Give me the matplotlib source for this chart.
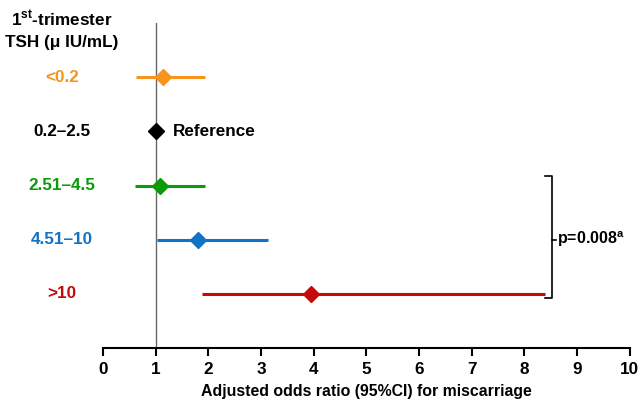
import numpy as np
import matplotlib
matplotlib.use('Agg')
import matplotlib.pyplot as plt

plt.rcParams['font.family'] = ['Liberation Sans', 'DejaVu Sans']
plt.rcParams['font.weight'] = 'bold'
plt.rcParams['mathtext.fontset'] = 'custom'
plt.rcParams['mathtext.rm'] = 'Liberation Sans'
plt.rcParams['mathtext.bf'] = 'Liberation Sans:bold'

# Данные: группы ТТГ, отношения шансов и 95% ДИ
groups = ['<0.2', '0.2–2.5', '2.51–4.5', '4.51–10', '>10']
odds = [1.14, 1.0, 1.08, 1.80, 3.95]
ci_low = [0.63, None, 0.61, 1.02, 1.88]
ci_high = [1.94, None, 1.94, 3.13, 8.39]
colors = ['#f7941d', '#000000', '#0a9a0a', '#1273c4', '#c40a0a']

fig = plt.figure(figsize=(6.4, 4.0), dpi=100)
ax = fig.add_axes([0.161, 0.13, 0.823, 0.8125])

ypos = np.arange(len(groups))[::-1]
ax.axvline(1, color='#666666', lw=1, zorder=1)

for y, g, o, lo, hi, c in zip(ypos, groups, odds, ci_low, ci_high, colors):
    if lo is not None:
        ax.plot([lo, hi], [y, y], color=c, lw=2.2, solid_capstyle='butt', zorder=2)
    ax.plot(o, y, marker='D', ms=8, color=c, mec=c, zorder=3)
    ax.text(-0.078, y, g, transform=ax.get_yaxis_transform(), color=c,
            ha='center', va='center', fontsize=12.3, fontweight='bold')

ax.text(1.33, ypos[1], 'Reference', ha='left', va='center', fontsize=12.3, fontweight='bold')

# скобка с p-значением
bx, bhook = 8.52, 8.39
btop, bbot = 2.17, -0.07
ax.plot([bhook, bx, bx, bhook], [btop, btop, bbot, bbot], color='black', lw=1.2, clip_on=False)
ax.plot([bx, bx + 0.08], [ypos[3], ypos[3]], color='black', lw=1.2, clip_on=False)
ax.text(bx + 0.1, ypos[3], r'p=0.008$^{\mathbf{a}}$', ha='left', va='center',
        fontsize=11.5, fontweight='bold')

fig.text(0.097, 0.953, r'1$^{\mathbf{st}}$-trimester', ha='center', va='center',
         fontsize=12.3, fontweight='bold')
fig.text(0.097, 0.893, 'TSH (μ IU/mL)', ha='center', va='center',
         fontsize=12.3, fontweight='bold')

ax.set_xlim(0, 10)
ax.set_ylim(-1, 5)
ax.set_xticks(range(0, 11))
ax.set_yticks([])
for s in ['top', 'right', 'left']:
    ax.spines[s].set_visible(False)
ax.spines['bottom'].set_linewidth(1.5)
ax.tick_params(axis='x', direction='out', length=6, width=1.5, labelsize=12.3, pad=4)
ax.set_xlabel('Adjusted odds ratio (95%CI) for miscarriage', fontsize=11.4,
              fontweight='bold', labelpad=5)

fig.savefig('out.png', dpi=100)
